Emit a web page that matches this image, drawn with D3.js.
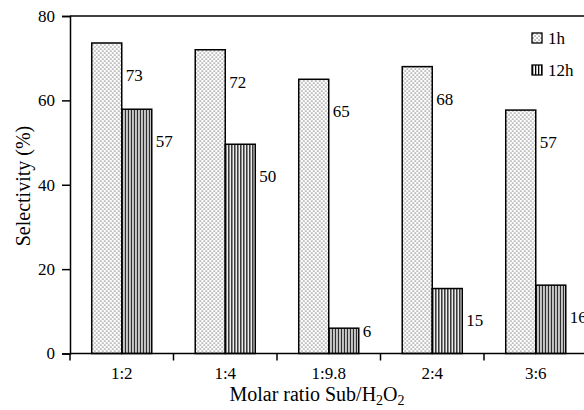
<!DOCTYPE html>
<html>
<head>
<meta charset="utf-8">
<script src="https://cdn.jsdelivr.net/npm/d3@7"></script>
<style>
  body { margin: 0; background: #fff; }
  svg text { font-family: "Liberation Serif", "Times New Roman", serif; fill: #000; }
</style>
</head>
<body>
<svg id="chart" width="584" height="410"></svg>
<script>
// data
var categories = ["1:2", "1:4", "1:9.8", "2:4", "3:6"];
var seriesNames = ["1h", "12h"];
var values1h = [73.6, 72, 65, 68, 57.7];
var values12h = [57.9, 49.6, 6, 15.4, 16.2];
var labels1h = ["73", "72", "65", "68", "57"];
var labels12h = ["57", "50", "6", "15", "16"];
var yTicks = [0, 20, 40, 60, 80];

var svg = d3.select("#chart");
var margin = {left: 70, top: 16, bottom: 353.5, right: 587.5};

var x0 = d3.scaleBand()
    .domain(categories)
    .range([margin.left, margin.right])
    .paddingInner(0.42)
    .paddingOuter(0.21);

var x1 = d3.scaleBand()
    .domain(seriesNames)
    .range([0, x0.bandwidth()]);

var y = d3.scaleLinear()
    .domain([0, 80])
    .range([margin.bottom, margin.top]);

// patterns
var defs = svg.append("defs");
var dots = defs.append("pattern")
    .attr("id", "dots")
    .attr("patternUnits", "userSpaceOnUse")
    .attr("width", 4).attr("height", 4);
dots.append("rect").attr("width", 4).attr("height", 4).attr("fill", "#fff");
dots.append("rect").attr("x", 0.5).attr("y", 0.5).attr("width", 1.1).attr("height", 1.1).attr("fill", "#444");
dots.append("rect").attr("x", 2.5).attr("y", 2.5).attr("width", 1.1).attr("height", 1.1).attr("fill", "#444");

var vlines = defs.append("pattern")
    .attr("id", "vlines")
    .attr("patternUnits", "userSpaceOnUse")
    .attr("width", 3).attr("height", 4);
vlines.append("rect").attr("width", 3).attr("height", 4).attr("fill", "#fff");
vlines.append("rect").attr("x", 0).attr("width", 1.3).attr("height", 4).attr("fill", "#000");

var fills = {"1h": "url(#dots)", "12h": "url(#vlines)"};

var rows = categories.map(function(c, i) {
  return {cat: c, bars: [
    {key: "1h", value: values1h[i], label: labels1h[i]},
    {key: "12h", value: values12h[i], label: labels12h[i]}
  ]};
});

// bars
var groups = svg.append("g").selectAll("g")
    .data(rows)
    .enter().append("g")
      .attr("transform", function(d) { return "translate(" + x0(d.cat) + ",0)"; });

groups.selectAll("rect")
    .data(function(d) { return d.bars; })
    .enter().append("rect")
      .attr("x", function(d) { return x1(d.key); })
      .attr("y", function(d) { return y(d.value); })
      .attr("width", x1.bandwidth())
      .attr("height", function(d) { return y(0) - y(d.value); })
      .attr("fill", function(d) { return fills[d.key]; })
      .attr("stroke", "#000")
      .attr("stroke-width", 1.5);

// value labels
groups.selectAll("text.val")
    .data(function(d) { return d.bars; })
    .enter().append("text")
      .attr("class", "val")
      .attr("x", function(d) { return x1(d.key) + x1.bandwidth() + 4; })
      .attr("y", function(d) { return Math.min(y(d.value) + 32, y(0) - 22); })
      .attr("dy", "0.35em")
      .attr("font-size", 17)
      .text(function(d) { return d.label; });

// y axis
var yAxis = svg.append("g")
    .attr("transform", "translate(" + margin.left + ",0)")
    .call(d3.axisLeft(y).tickValues(yTicks).tickSize(8).tickPadding(7));
yAxis.attr("font-family", null);
yAxis.select(".domain").attr("stroke", "#000").attr("stroke-width", 1.5);
yAxis.selectAll(".tick line").attr("stroke-width", 1.5);
yAxis.selectAll("text").attr("font-size", 17);

// x axis: labels at centres, ticks at boundaries
var xAxis = svg.append("g")
    .attr("transform", "translate(0," + margin.bottom + ")")
    .call(d3.axisBottom(x0).tickSize(0).tickPadding(13));
xAxis.attr("font-family", null);
xAxis.select(".domain").remove();
xAxis.selectAll("text").attr("font-size", 17);

var pad = (x0.step() - x0.bandwidth()) / 2;
svg.append("line")
    .attr("x1", margin.left).attr("x2", margin.right)
    .attr("y1", y(0)).attr("y2", y(0))
    .attr("stroke", "#000").attr("stroke-width", 1.5);
svg.append("g").selectAll("line")
    .data(categories)
    .enter().append("line")
      .attr("x1", function(d) { return x0(d) - pad; })
      .attr("x2", function(d) { return x0(d) - pad; })
      .attr("y1", y(0)).attr("y2", y(0) + 7)
      .attr("stroke", "#000").attr("stroke-width", 1.5);

// top frame
svg.append("line")
    .attr("x1", margin.left).attr("x2", margin.right)
    .attr("y1", y(80)).attr("y2", y(80))
    .attr("stroke", "#000").attr("stroke-width", 1.5);

// axis titles
var xt = svg.append("text")
    .attr("x", 317).attr("y", 401)
    .attr("text-anchor", "middle")
    .attr("font-size", 20);
xt.append("tspan").text("Molar ratio Sub/H");
xt.append("tspan").attr("font-size", 14).attr("dy", 4).text("2");
xt.append("tspan").attr("dy", -4).text("O");
xt.append("tspan").attr("font-size", 14).attr("dy", 4).text("2");

svg.append("text")
    .attr("transform", "translate(30,186) rotate(-90)")
    .attr("text-anchor", "middle")
    .attr("font-size", 20)
    .text("Selectivity (%)");

// legend
var legend = svg.append("g").selectAll("g")
    .data(seriesNames)
    .enter().append("g")
      .attr("transform", function(d, i) { return "translate(532," + (33 + i * 32) + ")"; });
legend.append("rect")
    .attr("width", 10).attr("height", 10)
    .attr("fill", function(d) { return fills[d]; })
    .attr("stroke", "#000").attr("stroke-width", 1.3);
legend.append("text")
    .attr("x", 16).attr("y", 5).attr("dy", "0.35em")
    .attr("font-size", 17)
    .text(function(d) { return d; });
</script>
</body>
</html>
